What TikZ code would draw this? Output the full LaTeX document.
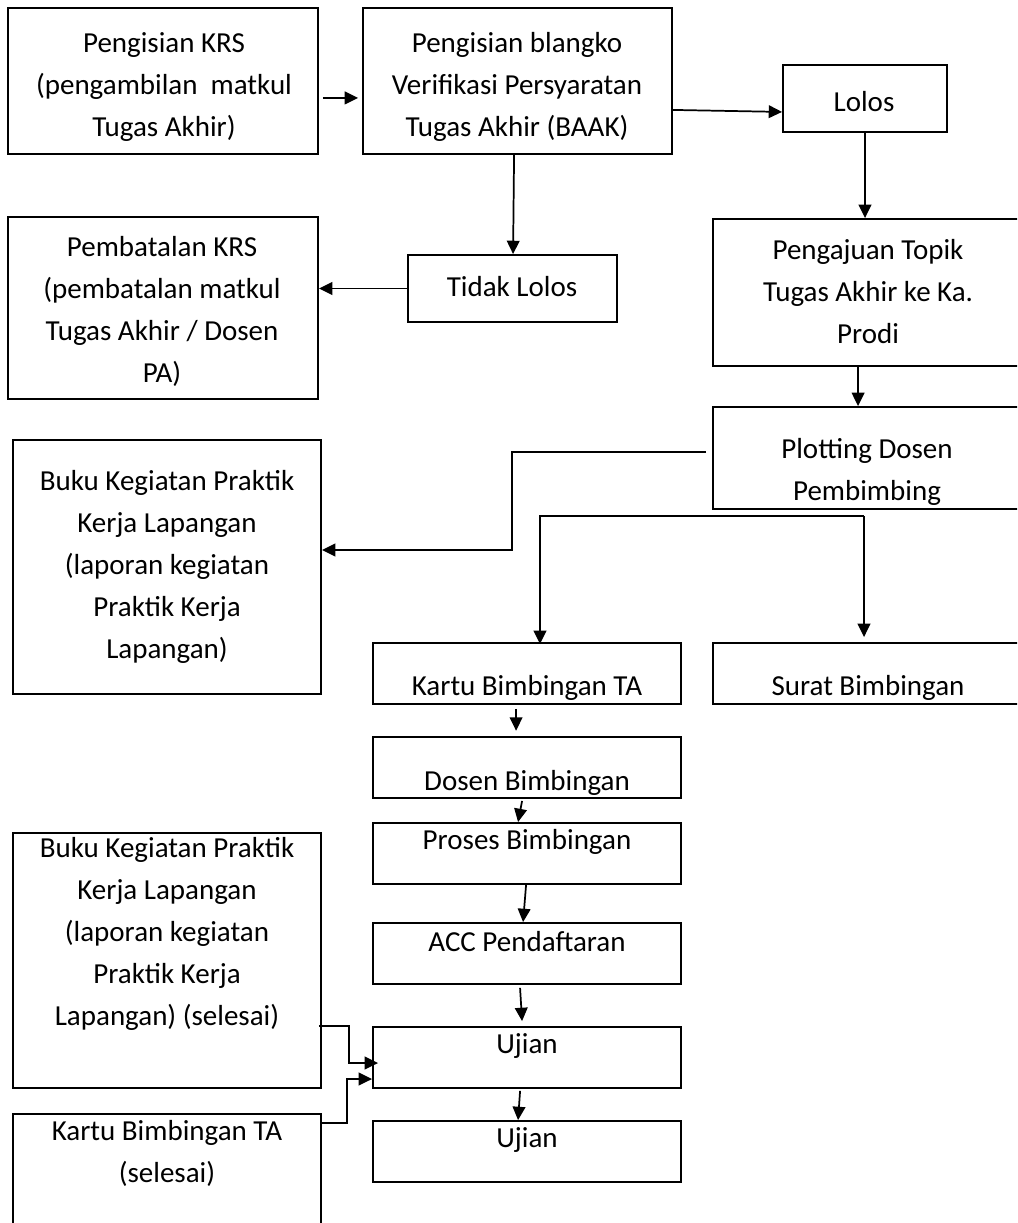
\documentclass[tikz,border=0pt]{standalone}
\usepackage{fontspec}
\setmainfont{Carlito}
\usetikzlibrary{arrows.meta,fit,calc}
\begin{document}
\begin{tikzpicture}[x=0.75pt,y=-0.75pt]
\tikzset{
  box/.style={draw, line width=1.4pt, inner sep=0pt},
  lbl/.style={font=\fontsize{21.75}{31.5}\selectfont, align=center, inner sep=0pt},
  arr/.style={-{Triangle[length=10pt,width=9.5pt]}, line width=1.3pt},
  ln/.style={line width=1.3pt}
}
\useasboundingbox (0,0) rectangle (1017,1223);
\clip (0,0) rectangle (1017,1223);
% boxes
\node[box, fit={(8,8)(318,154)}] (b1) {};
\node[box, fit={(363,8)(672,154)}] (b2) {};
\node[box, fit={(783,65)(947,132)}] (lolos) {};
\node[box, fit={(408,255)(617,322)}] (tl) {};
\node[box, fit={(8,217)(318,399)}] (pb) {};
\node[box, fit={(713,219)(1024,366)}] (pt) {};
\node[box, fit={(713,407)(1024,509)}] (pl) {};
\node[box, fit={(13,440)(321,694)}] (bk1) {};
\node[box, fit={(373,643)(681,704)}] (kt) {};
\node[box, fit={(713,643)(1024,704)}] (sr) {};
\node[box, fit={(373,737)(681,798)}] (ds) {};
\node[box, fit={(373,823)(681,884)}] (pr) {};
\node[box, fit={(373,923)(681,984)}] (acc) {};
\node[box, fit={(373,1027)(681,1088)}] (uj1) {};
\node[box, fit={(373,1121)(681,1182)}] (uj2) {};
\node[box, fit={(13,833)(321,1088)}] (bk2) {};
\node[box, fit={(13,1114)(321,1235)}] (kt2) {};
% texts
\node[lbl] (t1) at (164,87) {Pengisian KRS\\(pengambilan~ matkul\\Tugas Akhir)};
\node[lbl] (t2) at (517,87) {Pengisian blangko\\Verifikasi Persyaratan\\Tugas Akhir (BAAK)};
\node[lbl] (t3) at (864,102) {Lolos};
\node[lbl] (t4) at (512,287) {Tidak Lolos};
\node[lbl] (t5) at (162,311) {Pembatalan KRS\\(pembatalan matkul\\Tugas Akhir / Dosen\\PA)};
\node[lbl] (t6) at (868,292) {Pengajuan Topik\\Tugas Akhir ke Ka.\\Prodi};
\node[lbl] (t7) at (867,472) {Plotting Dosen\\Pembimbing};
\node[lbl] (t8) at (167,567) {Buku Kegiatan Praktik\\Kerja Lapangan\\(laporan kegiatan\\Praktik Kerja\\Lapangan)};
\node[lbl] (t9) at (527,688) {Kartu Bimbingan TA};
\node[lbl] (t10) at (868,688) {Surat Bimbingan};
\node[lbl] (t11) at (527,783) {Dosen Bimbingan};
\node[lbl] (t12) at (527,842) {Proses Bimbingan};
\node[lbl] (t13) at (527,942) {ACC Pendaftaran};
\node[lbl] (t14) at (527,1046) {Ujian};
\node[lbl] (t15) at (527,1140) {Ujian};
\node[lbl] (t16) at (167,934) {Buku Kegiatan Praktik\\Kerja Lapangan\\(laporan kegiatan\\Praktik Kerja\\Lapangan) (selesai)};
\node[lbl] (t17) at (167,1153) {Kartu Bimbingan TA\\(selesai)};
% helper coordinates
\coordinate (split) at (864,516);
\coordinate (kl) at (540,516);
\coordinate (bend) at (512,550);
\coordinate (h1) at (349,1063);
\coordinate (h2) at (347,1079);
% connectors
\draw[arr] ($(b1.south east)+(4,-57)$) -- ($(b2.south west)+(-4,-57)$);
\draw[arr] ($(b2.south east)+(0,-45)$) -- ($(lolos.south west)+(0,-21)$);
\draw[arr] (lolos.south) -- (lolos.south |- pt.north);
\draw[arr] ($(b2.south west)+(152,0)$) -- ($(tl.north west)+(106,0)$);
\draw[arr] (tl.west) -- (tl.west -| pb.east);
\draw[arr] ($(pt.south west)+(146,0)$) -- ($(pl.north west)+(146,0)$);
\draw[arr] ($(pl.north west)+(-6,46)$) -| (bend) -- (bend -| bk1.east);
\draw[arr] (split) -- (kl) -- ($(kl |- kt.north)+(0,2)$);
\draw[arr] (split) -- ($(split |- sr.north)+(0,-5)$);
\draw[arr, shorten <=3pt, shorten >=4pt] ($(kt.south west)+(144,0)$) -- ($(ds.north west)+(144,0)$);
\draw[arr] ($(ds.south west)+(150,2)$) -- ($(pr.north west)+(146,0)$);
\draw[arr] ($(pr.south west)+(154,0)$) -- ($(acc.north west)+(151,0)$);
\draw[arr] ($(acc.south west)+(148,3)$) -- ($(uj1.north west)+(150,-5)$);
\draw[arr] ($(uj1.south west)+(148,2)$) -- ($(uj2.north west)+(146,0)$);
\draw[arr] ($(bk2.north east)+(-3,194)$) -| (h1) -- ($(h1 -| uj1.west)+(6,0)$);
\draw[arr] ($(kt2.north east)+(0,10)$) -| (h2) -- (h2 -| uj1.west);
\end{tikzpicture}
\end{document}
